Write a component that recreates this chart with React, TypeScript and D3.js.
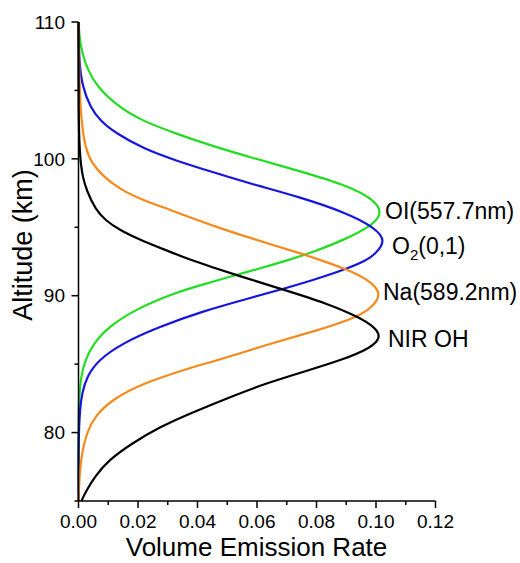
import React from "react";
import * as d3 from "d3";

type Pt = [number, number]; // [altitude km, value]

const OI_557: Pt[] = [
  [75, 0], [81, 0], [82.4, 0.0002], [84.1, 0.0008], [85.3, 0.0022], [86.5, 0.005],
  [87.7, 0.01], [89.0, 0.019], [90.2, 0.0324], [90.7, 0.04], [91.4, 0.051],
  [91.9, 0.0595], [92.6, 0.0705], [93.2, 0.079], [94.1, 0.0895], [95.1, 0.0985],
  [96.0, 0.1022], [97.0, 0.0995], [98.0, 0.091], [99.1, 0.0745], [100.1, 0.058],
  [100.9, 0.0455], [101.87, 0.0324], [102.8, 0.0212], [103.8, 0.0134],
  [105.3, 0.0061], [106.5, 0.0031], [107.7, 0.0013], [108.7, 0.0004], [110, 0],
];

const O2_01: Pt[] = [
  [75, 0], [79, 0], [80.4, 0.0002], [81.7, 0.0005], [82.9, 0.0012], [84.1, 0.0028],
  [85.3, 0.0067], [86.5, 0.0145], [87.7, 0.0268], [88.85, 0.0415], [89.8, 0.0572],
  [90.5, 0.0688], [91.15, 0.079], [91.9, 0.0895], [92.6, 0.097], [93.0, 0.0995],
  [94.0, 0.1035], [95.0, 0.0995], [96.1, 0.0895], [97.2, 0.0745], [98.2, 0.0576],
  [99.0, 0.0455], [99.9, 0.0324], [100.7, 0.0222], [101.9, 0.0123], [102.8, 0.0072],
  [103.8, 0.0039], [105.3, 0.0013], [107, 0.0002], [110, 0],
];

const Na_589: Pt[] = [
  [75, 0], [76.8, 0.0003], [78.5, 0.0011], [80.0, 0.0028], [81.2, 0.0055],
  [82.4, 0.0112], [83.6, 0.0215], [84.8, 0.0385], [85.3, 0.047], [86.5, 0.0645],
  [87.5, 0.081], [88.4, 0.0935], [89.2, 0.099], [90.2, 0.102], [91.15, 0.0975],
  [91.9, 0.0905], [92.6, 0.0815], [93.1, 0.0745], [94.2, 0.058], [94.9, 0.048],
  [95.5, 0.0403], [96.3, 0.0305], [97.0, 0.0215], [97.7, 0.0145], [98.7, 0.0083],
  [99.7, 0.0044], [100.7, 0.0024], [102.8, 0.0008], [106.5, 0.0002], [110, 0],
];

const NIR_OH: Pt[] = [
  [75, 0.001], [75.6, 0.0022], [76.8, 0.0055], [78.0, 0.0102], [79.2, 0.0179],
  [80.4, 0.0272], [81.4, 0.0375], [82.6, 0.051], [83.6, 0.063],
  [84.5, 0.0765], [85.3, 0.0885], [86.2, 0.0985], [87.0, 0.1018], [87.7, 0.0995],
  [88.4, 0.0946], [89.45, 0.0834], [90.4, 0.0695], [91.5, 0.0532], [92.1, 0.0448],
  [92.6, 0.0378], [93.35, 0.0291], [94.1, 0.0205], [94.8, 0.0138], [95.5, 0.0091],
  [96.3, 0.0057], [97.7, 0.0027], [98.7, 0.0014], [99.6, 0.0008], [100.65, 0.0004],
  [102.8, 0], [110, 0],
];

const seriesNames = ["OI(557.7nm)", "O2(0,1)", "Na(589.2nm)", "NIR OH"];
const seriesColors = ["#22dd22", "#1515e0", "#f58a1c", "#000000"];
const seriesData = [OI_557, O2_01, Na_589, NIR_OH];

const xMajorTicks = [0, 0.02, 0.04, 0.06, 0.08, 0.1, 0.12];
const xMinorTicks = [0.01, 0.03, 0.05, 0.07, 0.09, 0.11];
const yMajorTicks = [80, 90, 100, 110];
const yMinorTicks = [75, 85, 95, 105];

export default function App() {
  const x = d3.scaleLinear().domain([0, 0.12]).range([78.5, 435.5]);
  const y = d3.scaleLinear().domain([75, 110]).range([501, 22]);
  const line = d3
    .line<Pt>()
    .x((d) => x(d[1]))
    .y((d) => y(d[0]))
    .curve(d3.curveBasis);

  const font = "Arial, 'Liberation Sans', sans-serif";
  const labelPos: { name: string; xs: number; ys: number }[] = [
    { name: seriesNames[0], xs: 385, ys: 219 },
    { name: seriesNames[1], xs: 392, ys: 254 },
    { name: seriesNames[2], xs: 383, ys: 300 },
    { name: seriesNames[3], xs: 388, ys: 347 },
  ];

  return (
    <svg
      width={520}
      height={563}
      style={{ position: "absolute", left: 0, top: 0, background: "#fff" }}
      fontFamily={font}
    >
      <rect width={520} height={563} fill="#fff" />
      {seriesData.map((d, i) => (
        <path
          key={i}
          d={line(d) || ""}
          fill="none"
          stroke={seriesColors[i]}
          strokeWidth={2.2}
        />
      ))}
      {/* axes */}
      <line x1={x(0)} x2={x(0)} y1={y(75)} y2={y(110)} stroke="#000" strokeWidth={1.5} />
      <line x1={x(0)} x2={x(0.12)} y1={y(75)} y2={y(75)} stroke="#000" strokeWidth={1.5} />
      {yMajorTicks.map((t) => (
        <g key={"ym" + t}>
          <line x1={x(0) - 7} x2={x(0)} y1={y(t)} y2={y(t)} stroke="#000" strokeWidth={1.5} />
          <text x={65} y={y(t)} dy="0.35em" textAnchor="end" fontSize={19}>
            {t}
          </text>
        </g>
      ))}
      {yMinorTicks.map((t) => (
        <line key={"yn" + t} x1={x(0) - 4} x2={x(0)} y1={y(t)} y2={y(t)} stroke="#000" strokeWidth={1.5} />
      ))}
      {xMajorTicks.map((t) => (
        <g key={"xm" + t}>
          <line x1={x(t)} x2={x(t)} y1={y(75)} y2={y(75) + 7} stroke="#000" strokeWidth={1.5} />
          <text x={x(t)} y={528} textAnchor="middle" fontSize={19}>
            {d3.format(".2f")(t)}
          </text>
        </g>
      ))}
      {xMinorTicks.map((t) => (
        <line key={"xn" + t} x1={x(t)} x2={x(t)} y1={y(75)} y2={y(75) + 4} stroke="#000" strokeWidth={1.5} />
      ))}
      <text x={256.5} y={556} textAnchor="middle" fontSize={26}>
        Volume Emission Rate
      </text>
      <text
        transform={`translate(32, 245) rotate(-90)`}
        textAnchor="middle"
        fontSize={27}
      >
        Altitude (km)
      </text>
      {labelPos.map((l, i) =>
        i === 1 ? (
          <text key={i} x={l.xs} y={l.ys} fontSize={23}>
            O<tspan fontSize={15} dy={6}>2</tspan>
            <tspan dy={-6}>(0,1)</tspan>
          </text>
        ) : (
          <text key={i} x={l.xs} y={l.ys} fontSize={23}>
            {l.name}
          </text>
        )
      )}
    </svg>
  );
}
